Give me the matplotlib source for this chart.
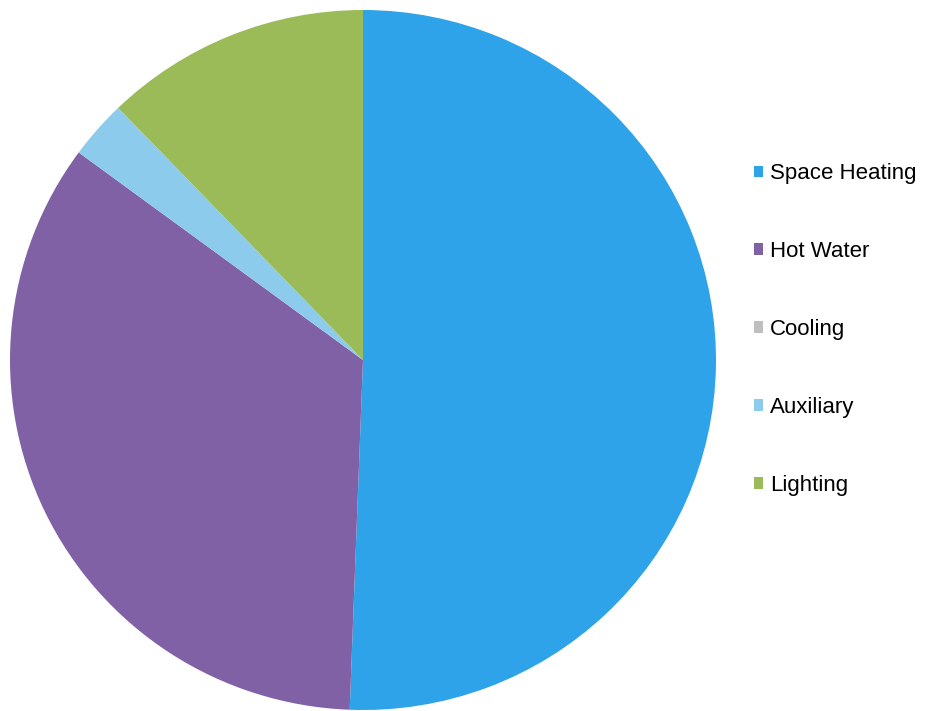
import matplotlib
matplotlib.use('Agg')
import matplotlib.pyplot as plt

plt.rcParams['font.family'] = ['Liberation Sans', 'DejaVu Sans']

labels = ['Space Heating', 'Hot Water', 'Cooling', 'Auxiliary', 'Lighting']
shares = [50.6, 34.5, 0.0, 2.7, 12.2]
colors = ['#2ea3ea', '#8061a5', '#bfbfbf', '#8ccbec', '#9bbb59']

fig = plt.figure(figsize=(9.36, 7.11), dpi=100)
# axes box for the pie, in pixels: centre (363, 360), 706 wide, 700 tall
ax = fig.add_axes([(363 - 353) / 936, (711 - 360 - 350) / 711, 706 / 936, 700 / 711])
wedges, _ = ax.pie(shares, colors=colors, startangle=90, counterclock=False,
                   wedgeprops={'linewidth': 0})
ax.set_xlim(-1, 1)
ax.set_ylim(-1, 1)
ax.set_aspect('auto')

fig.legend(wedges, labels, loc='center left', bbox_to_anchor=(754 / 936, 1 - 329.5 / 711),
           frameon=False, fontsize=16, handlelength=0.42, handleheight=0.42,
           handletextpad=0.3, labelspacing=2.56, borderpad=0, borderaxespad=0)

fig.savefig('out.png', dpi=100)
